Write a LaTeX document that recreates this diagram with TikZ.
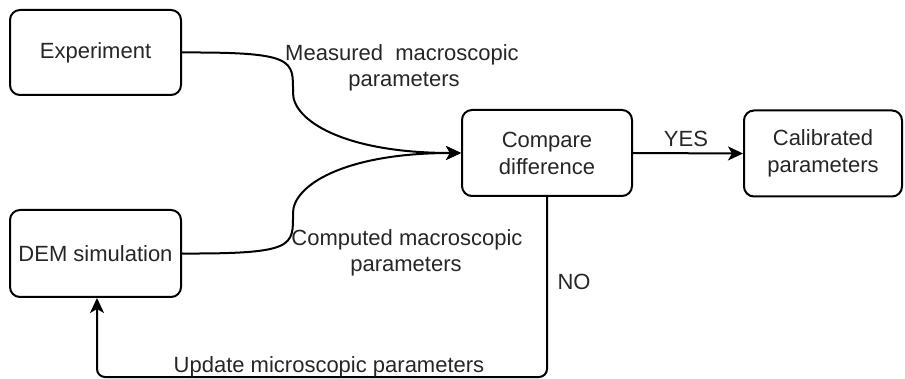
\documentclass[tikz,border=0pt]{standalone}
\usepackage{fontspec}
\setmainfont{Liberation Sans}
\usetikzlibrary{arrows.meta}
\begin{document}
\begin{tikzpicture}[x=1pt,y=-1pt,
  every node/.style={font=\fontsize{22}{27}\selectfont, text=black!85, inner sep=0pt},
  box/.style={draw=black, line width=2pt, rounded corners=10pt, align=center},
  conn/.style={draw=black, line width=2pt, -{Stealth[length=15pt,width=14pt,inset=4pt]}},
  lbl/.style={align=center}]
\useasboundingbox (0,0) rectangle (905,379);
\node[box, minimum width=171pt, minimum height=85pt] (exp) at (95.5,52.5) {Experiment};
\node[box, minimum width=171pt, minimum height=87pt] (dem) at (95.5,253.5) {DEM simulation};
\node[box, minimum width=170pt, minimum height=86pt] (cmp) at (547,153) {Compare\\difference};
\node[box, minimum width=158pt, minimum height=86pt] (cal) at (823,153.5) {Calibrated\\parameters};
\coordinate (m1) at (293,93);
\coordinate (m2) at (293,213);
\coordinate (b1) at (547,377);
\coordinate (b2) at (97,377);
\draw[conn] (exp.east) .. controls (296,52) and (293,60) .. (m1) .. controls (293,120) and (343,153) .. (cmp.west);
\draw[conn] (dem.east) .. controls (296,254) and (293,246) .. (m2) .. controls (293,186) and (343,153) .. (cmp.west);
\draw[conn] (cmp.east) -- (cal.west);
\draw[conn, rounded corners=8pt] (cmp.south) -- (b1) -- (b2) -- (dem.south -| b2);
\node[lbl] (lm1) at (402,55) {Measured\ \ macroscopic};
\node[lbl] (lm2) at (404,82) {parameters};
\node[lbl] (lc1) at (407,240) {Computed macroscopic};
\node[lbl] (lc2) at (406,267) {parameters};
\node[lbl] (yes) at (686,139) {YES};
\node[lbl] (no) at (574,282) {NO};
\node[lbl] (upd) at (329,367) {Update microscopic parameters};
\end{tikzpicture}
\end{document}
